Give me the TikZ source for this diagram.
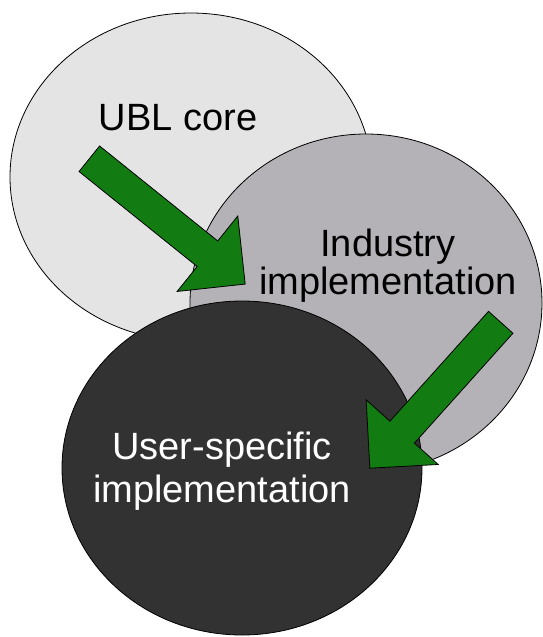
\documentclass[tikz,border=0pt]{standalone}
\usepackage{fontspec}
\setmainfont{Liberation Sans}
\usetikzlibrary{shapes.geometric,shapes.arrows}
\definecolor{pale}{RGB}{228,228,228}
\definecolor{mid}{RGB}{180,178,182}
\definecolor{dark}{RGB}{50,50,50}
\definecolor{leaf}{RGB}{18,124,18}

\begin{document}
\begin{tikzpicture}[x=0.75pt, y=-0.75pt,
    zone/.style={ellipse, draw, line width=0.6pt, inner sep=0pt},
    flow/.style={single arrow, draw, fill=leaf, line width=0.6pt,
      inner xsep=0pt, inner ysep=12pt, single arrow head extend=24pt,
      single arrow tip angle=90, anchor=tail},
    lbl/.style={align=center, inner sep=0pt}]
  \useasboundingbox (0,0) rectangle (543,637);
  \node[zone, fill=pale, minimum width=271.5pt, minimum height=246pt] (ubl) at (191,177) {};
  \node[zone, fill=mid, minimum width=264pt, minimum height=253.5pt] (ind) at (366,303) {};
  \node[zone, fill=dark, minimum width=270pt, minimum height=250.5pt] (usr) at (242,468) {};
  \node[flow, minimum height=150pt, rotate=-38.8] (f-1) at (89,158.5) {};
  \node[flow, minimum height=147pt, rotate=-131.9] (f-2) at (501,322) {};
  \node[lbl, anchor=base, font=\fontsize{28.5}{28.5}\selectfont] (l-ubl) at (178,130) {UBL core};
  \node[lbl, font=\fontsize{28.5}{28.5}\selectfont] (l-ind) at (388,266) {Industry\\implementation};
  \node[lbl, text=white, font=\fontsize{28.5}{32.25}\selectfont] (l-usr) at (222,471.5) {User-specific\\implementation};
\end{tikzpicture}
\end{document}
